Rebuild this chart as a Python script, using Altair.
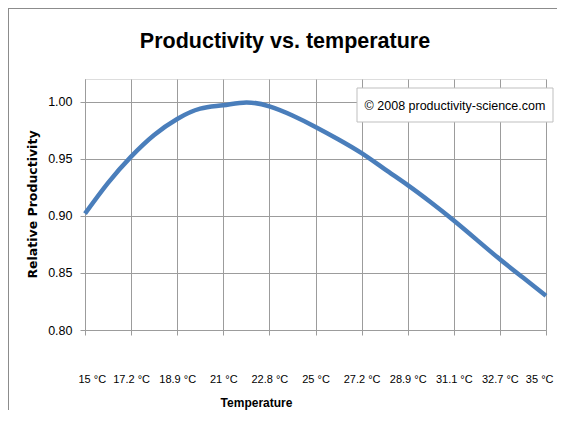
import altair as alt
import pandas as pd

# Curve samples: position index (0 = first labelled category, 10 = last) and relative productivity
pos = [0, 0.5, 1, 1.5, 2, 2.5, 3, 3.5, 4, 4.5, 5, 5.5, 6, 6.5, 7, 7.5, 8, 8.5, 9, 9.5, 10]
productivity = [0.902, 0.929, 0.952, 0.971, 0.985, 0.994, 0.997, 0.9995, 0.996, 0.988, 0.978,
                0.967, 0.955, 0.941, 0.927, 0.912, 0.896, 0.879, 0.862, 0.846, 0.830]

tick_labels = ["15 °C", "17.2 °C", "18.9 °C", "21 °C", "22.8 °C", "25 °C",
               "27.2 °C", "28.9 °C", "31.1 °C", "32.7 °C", "35 °C"]
y_ticks = [0.80, 0.85, 0.90, 0.95, 1.00]
title = "Productivity vs. temperature"
note = "© 2008  productivity-science.com"

df = pd.DataFrame({"pos": pos, "productivity": productivity})
one = pd.DataFrame({"title": [title], "note": [note]})

FONT = "Liberation Sans, Arial, sans-serif"
GRID = "#9c9c9c"

label_expr = "[" + ",".join("'" + s + "'" for s in tick_labels) + "][round(datum.value)]"

line = alt.Chart(df).mark_line(color="#4a7ebb", strokeWidth=4.5, interpolate="natural").encode(
    x=alt.X("pos:Q",
            scale=alt.Scale(domain=[0, 10], nice=False, zero=False),
            axis=alt.Axis(values=list(range(11)), labelExpr=label_expr,
                          title="Temperature", titleFont=FONT, titleFontSize=12,
                          titleFontWeight="bold", titleColor="#000000",
                          titleX=171, titleY=72, titleBaseline="middle", titleAnchor="start",
                          titleAlign="center",
                          labelFont=FONT, labelFontSize=11, labelColor="#000000",
                          labelPadding=38, labelFlush=True, labelFlushOffset=7,
                          labelOverlap=False,
                          tickSize=5, tickColor=GRID, domainColor=GRID,
                          gridColor=GRID, gridWidth=1)),
    y=alt.Y("productivity:Q",
            scale=alt.Scale(domain=[0.80, 1.02], nice=False, zero=False),
            axis=alt.Axis(values=y_ticks, format=".2f",
                          title="Relative Productivity", titleFont="DejaVu Sans, Verdana, sans-serif",
                          titleFontSize=12.5, titleFontWeight="bold", titleColor="#000000",
                          titleX=-53, titleY=125, titleAngle=-90, titleAlign="center",
                          titleBaseline="middle", titleAnchor="start",
                          labelFont=FONT, labelFontSize=12.5, labelColor="#000000",
                          labelPadding=8, labelOverlap=False,
                          tickSize=5, tickColor=GRID, domainColor=GRID,
                          gridColor=GRID, gridWidth=1)),
)

ann = alt.Chart(one)
box = ann.mark_rect(fill="white", stroke="#bfbfbf", strokeWidth=1, clip=False).encode(
    x=alt.value(272), x2=alt.value(468), y=alt.value(9), y2=alt.value(43)
)
note_text = ann.mark_text(font=FONT, fontSize=12.5, color="#000000",
                          align="center", baseline="middle", clip=False).encode(
    text="note:N", x=alt.value(370), y=alt.value(27)
)
title_text = ann.mark_text(font=FONT, fontSize=21.5, fontWeight="bold",
                           color="#000000", align="center", baseline="alphabetic",
                           clip=False).encode(
    text="title:N", x=alt.value(200), y=alt.value(-31)
)
frame_top = ann.mark_rule(color="#8c8c8c", strokeWidth=1, clip=False).encode(
    x=alt.value(-77), x2=alt.value(472), y=alt.value(-70.5)
)
frame_left = ann.mark_rule(color="#8c8c8c", strokeWidth=1, clip=False).encode(
    x=alt.value(-76.5), y=alt.value(-70.5), y2=alt.value(331)
)

chart = alt.layer(frame_top, frame_left, line, box, note_text, title_text).properties(
    width=461, height=251,
    autosize=alt.AutoSizeParams(type="none"),
    padding={"left": 77, "top": 71, "right": 11, "bottom": 80},
).configure_view(stroke=None).configure(background="white")

chart.save("out.html", embed_options={"renderer": "svg", "actions": False})
